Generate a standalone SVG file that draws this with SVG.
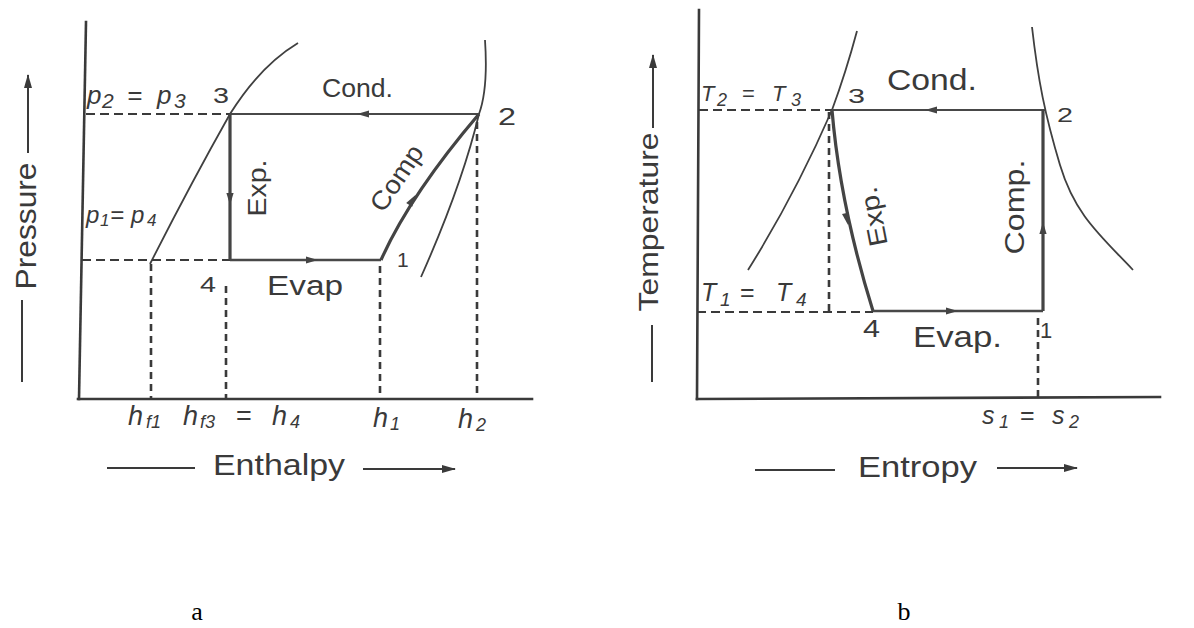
<svg xmlns="http://www.w3.org/2000/svg" xmlns:xlink="http://www.w3.org/1999/xlink" width="1194" height="628" viewBox="0 0 1194 628">
<defs>
<style>
.ax{stroke:#3a3a3a;stroke-width:2.6;fill:none;stroke-linecap:square}
.thin{stroke:#484848;stroke-width:2;fill:none}
.thick{stroke:#444;stroke-width:3.2;fill:none}
.curve{stroke:#404040;stroke-width:1.8;fill:none}
.dash{stroke:#3a3a3a;stroke-width:2;stroke-dasharray:9 5;fill:none}
.vdash{stroke:#3a3a3a;stroke-width:2.6;stroke-dasharray:7 5;fill:none}
.lbl{stroke:#3a3a3a;stroke-width:2;fill:none}
text{font-family:"Liberation Sans",Arial,sans-serif;fill:#3a3a3a}
.it{font-style:italic}
.cap{font-family:"Liberation Serif","Times New Roman",serif;fill:#000}
</style>
<path id="ah" d="M-7,-3.6 L5,0 L-7,3.6 Z" fill="#444"/>
<marker id="axarr" markerUnits="userSpaceOnUse" markerWidth="16" markerHeight="10" refX="13" refY="5" orient="auto">
<path d="M0,1 L14,5 L0,9 Z" fill="#3a3a3a"/>
</marker>
</defs>
<rect width="1194" height="628" fill="#fff"/>

<!-- ================= Diagram a : p-h ================= -->
<g id="diagram-a">
<g id="a-axes">
<path class="ax" d="M86,22 L79,399"/>
<path class="ax" d="M78,399 L532,399"/>
<path class="lbl" d="M22,382 L22,300"/>
<path class="lbl" d="M28,153 L28,75" marker-end="url(#axarr)"/>
<text transform="translate(36,226) rotate(-90)" text-anchor="middle" font-size="30" textLength="127" lengthAdjust="spacingAndGlyphs">Pressure</text>
<path class="lbl" d="M107,468 L195,468"/>
<path class="lbl" d="M363,469 L455,469" marker-end="url(#axarr)"/>
<text x="213" y="475" font-size="29" textLength="132" lengthAdjust="spacingAndGlyphs">Enthalpy</text>
</g>
<g id="a-saturation">
<path class="curve" d="M150,264 Q190,185 230,114 Q260,66 298,43"/>
<path class="curve" d="M485,40 C487,70 486,95 479,114 Q462,185 421,277"/>
</g>
<g id="a-guides">
<path class="dash" d="M86,114 L230,114"/>
<path class="dash" d="M82,260 L230,260"/>
<path class="vdash" d="M151,264 L151,399"/>
<path class="vdash" d="M226,286 L226,399"/>
<path class="vdash" d="M380,266 L380,399"/>
<path class="vdash" d="M477,122 L477,399"/>
</g>
<g id="a-connectors">
<path class="thin" d="M479,114 L230,114"/>
<path class="thick" d="M230,114 L230,260"/>
<path class="thin" d="M230,260 L381,260" style="stroke-width:2.4"/>
<path class="thick" d="M381,260 Q410,195 479,114"/>
<use xlink:href="#ah" transform="translate(362,114) rotate(180)"/>
<use xlink:href="#ah" transform="translate(230,200) rotate(90)"/>
<use xlink:href="#ah" transform="translate(313,260)"/>
<use xlink:href="#ah" transform="translate(413,199) rotate(-57)"/>
</g>
<g id="a-state-3"><text x="213" y="103" font-size="22" textLength="16" lengthAdjust="spacingAndGlyphs">3</text></g>
<g id="a-state-2"><text x="498" y="125" font-size="24" textLength="18" lengthAdjust="spacingAndGlyphs">2</text></g>
<g id="a-state-1"><text x="397" y="267" font-size="21">1</text></g>
<g id="a-state-4"><text x="200" y="292" font-size="22" textLength="16" lengthAdjust="spacingAndGlyphs">4</text></g>
<g id="a-labels">
<text class="it" y="104" font-size="26"><tspan x="87">p</tspan><tspan x="102" dy="4" font-size="21">2</tspan><tspan x="127" dy="-4">=</tspan><tspan x="157">p</tspan><tspan x="174" dy="4" font-size="21">3</tspan></text>
<text class="it" y="223" font-size="24"><tspan x="86">p</tspan><tspan x="100" dy="3" font-size="17">1</tspan><tspan x="110" dy="-3">=</tspan><tspan x="131">p</tspan><tspan x="147" dy="3" font-size="17">4</tspan></text>
<text x="322" y="97" font-size="25" textLength="71" lengthAdjust="spacingAndGlyphs">Cond.</text>
<text x="267" y="295" font-size="27" textLength="76" lengthAdjust="spacingAndGlyphs">Evap</text>
<text transform="translate(266,188) rotate(-90)" text-anchor="middle" font-size="26" textLength="57" lengthAdjust="spacingAndGlyphs">Exp.</text>
<text transform="translate(404,183) rotate(-56)" text-anchor="middle" font-size="26" textLength="74" lengthAdjust="spacingAndGlyphs">Comp</text>
<text class="it" y="425" font-size="27"><tspan x="128">h</tspan><tspan x="146" dy="3" font-size="18">f1</tspan></text>
<text class="it" y="425" font-size="27"><tspan x="183">h</tspan><tspan x="200" dy="3" font-size="18">f3</tspan><tspan x="236" dy="-3" font-style="normal">=</tspan><tspan x="272">h</tspan><tspan x="290" dy="3" font-size="18">4</tspan></text>
<text class="it" y="427" font-size="27"><tspan x="373">h</tspan><tspan x="390" dy="3" font-size="18">1</tspan></text>
<text class="it" y="428" font-size="27"><tspan x="458">h</tspan><tspan x="476" dy="3" font-size="18">2</tspan></text>
</g>
<text class="cap" x="197" y="620" font-size="26" text-anchor="middle">a</text>
</g>

<!-- ================= Diagram b : T-s ================= -->
<g id="diagram-b">
<g id="b-axes">
<path class="ax" d="M699,10 L697,399"/>
<path class="ax" d="M697,399 L1160,397"/>
<path class="lbl" d="M652,382 L652,325"/>
<path class="lbl" d="M653,128 L653,55" marker-end="url(#axarr)"/>
<text transform="translate(658,222) rotate(-90)" text-anchor="middle" font-size="28" textLength="179" lengthAdjust="spacingAndGlyphs">Temperature</text>
<path class="lbl" d="M755,470 L835,470"/>
<path class="lbl" d="M997,468 L1077,468" marker-end="url(#axarr)"/>
<text x="858" y="477" font-size="29" textLength="119" lengthAdjust="spacingAndGlyphs">Entropy</text>
</g>
<g id="b-saturation">
<path class="curve" d="M857,31 Q846,72 832,110 Q795,195 748,270"/>
<path class="curve" d="M1032,27 C1038,80 1045,115 1060,165 S1100,235 1133,270"/>
</g>
<g id="b-guides">
<path class="dash" d="M699,110 L832,110"/>
<path class="dash" d="M697,312 L873,312"/>
<path class="vdash" d="M829,112 L829,312"/>
<path class="vdash" d="M1038,318 L1038,397"/>
</g>
<g id="b-connectors">
<path class="thin" d="M1045,110 L832,110"/>
<path class="thick" d="M832,110 Q840,205 873,311"/>
<path class="thin" d="M873,311 L1043,311" style="stroke-width:2.4"/>
<path class="thick" d="M1043,311 L1043,110"/>
<use xlink:href="#ah" transform="translate(930,110) rotate(180)"/>
<use xlink:href="#ah" transform="translate(847,220) rotate(78)"/>
<use xlink:href="#ah" transform="translate(953,311)"/>
<use xlink:href="#ah" transform="translate(1043,227) rotate(-90)"/>
</g>
<g id="b-state-3"><text x="848" y="103" font-size="21" textLength="17" lengthAdjust="spacingAndGlyphs">3</text></g>
<g id="b-state-2"><text x="1057" y="122" font-size="21" textLength="16" lengthAdjust="spacingAndGlyphs">2</text></g>
<g id="b-state-4"><text x="863" y="337" font-size="23" textLength="17" lengthAdjust="spacingAndGlyphs">4</text></g>
<g id="b-state-1"><text x="1040" y="338" font-size="22">1</text></g>
<g id="b-labels">
<text class="it" y="101" font-size="22"><tspan x="701">T</tspan><tspan x="717" dy="5" font-size="18">2</tspan><tspan x="742" dy="-5" font-style="normal">=</tspan><tspan x="772">T</tspan><tspan x="791" dy="5" font-size="18">3</tspan></text>
<text class="it" y="301" font-size="25"><tspan x="701">T</tspan><tspan x="720" dy="5" font-size="19">1</tspan><tspan x="740" dy="-5" font-style="normal">=</tspan><tspan x="776">T</tspan><tspan x="796" dy="5" font-size="19">4</tspan></text>
<text x="887" y="90" font-size="30" textLength="90" lengthAdjust="spacingAndGlyphs">Cond.</text>
<text x="913" y="347" font-size="30" textLength="89" lengthAdjust="spacingAndGlyphs">Evap.</text>
<text transform="translate(882,215) rotate(-101)" text-anchor="middle" font-size="26" textLength="60" lengthAdjust="spacingAndGlyphs">Exp.</text>
<text transform="translate(1024,207) rotate(-90)" text-anchor="middle" font-size="27" textLength="95" lengthAdjust="spacingAndGlyphs">Comp.</text>
<text class="it" y="424" font-size="25"><tspan x="982">s</tspan><tspan x="999" dy="4" font-size="18">1</tspan><tspan x="1020" dy="-4" font-style="normal">=</tspan><tspan x="1052">s</tspan><tspan x="1069" dy="4" font-size="18">2</tspan></text>
</g>
<text class="cap" x="904" y="620" font-size="26" text-anchor="middle">b</text>
</g>
</svg>
